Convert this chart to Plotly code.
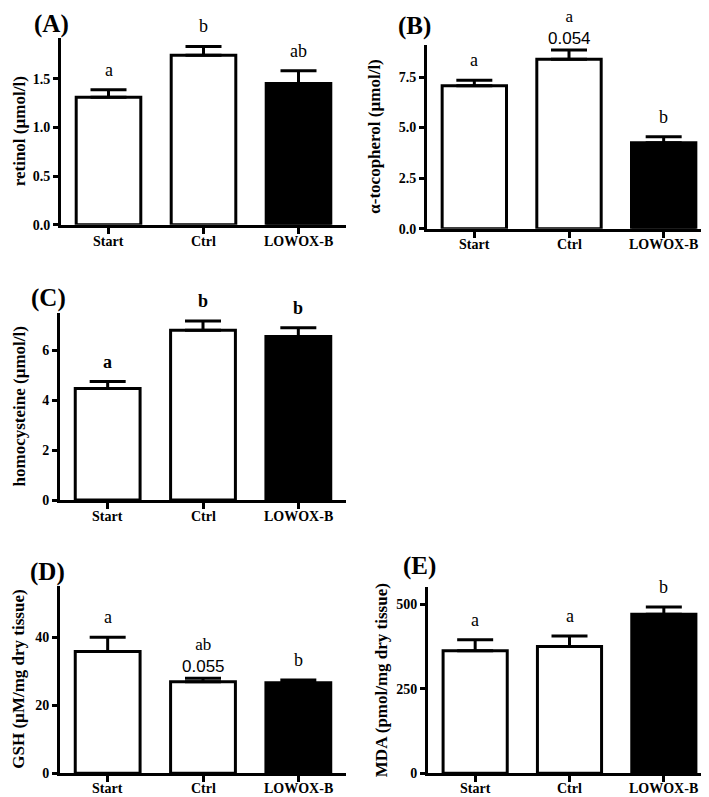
import plotly.graph_objects as go

W, H = 709, 797

categories = ["Start", "Ctrl", "LOWOX-B"]
bar_colors = ["white", "white", "black"]

retinol = [1.31, 1.74, 1.45]
retinol_err = [0.075, 0.09, 0.13]
retinol_letters = ["a", "b", "ab"]

tocopherol = [7.07, 8.38, 4.25]
tocopherol_err = [0.27, 0.45, 0.30]
tocopherol_letters = ["a", "a", "b"]
tocopherol_p = ["", "0.054", ""]

homocysteine = [4.47, 6.80, 6.55]
homocysteine_err = [0.28, 0.38, 0.36]
homocysteine_letters = ["a", "b", "b"]

gsh = [35.8, 26.9, 26.6]
gsh_err = [4.2, 1.0, 0.8]
gsh_letters = ["a", "ab", "b"]
gsh_p = ["", "0.055", ""]

mda = [363, 375, 471]
mda_err = [32, 31, 21]
mda_letters = ["a", "a", "b"]

SERIF = "Liberation Serif, Times New Roman, serif"
SANS = "Liberation Sans, Arial, sans-serif"

# panel layout in pixels: (x0, x1, ytop, ybottom)
panels = [
    dict(name="A", vals=retinol, err=retinol_err, letters=retinol_letters, p=None,
         px=(53, 338, 30, 219), yr=[0, 1.92], ticks=[0, 0.5, 1.0, 1.5], fmt=".1f",
         title="retinol (µmol/l)", tx=11, lx=43, ly=16, lbold=False, loff=17),
    dict(name="B", vals=tocopherol, err=tocopherol_err, letters=tocopherol_letters, p=tocopherol_p,
         px=(419, 703, 37, 223), yr=[0, 9.1], ticks=[0, 2.5, 5.0, 7.5], fmt=".1f",
         title="α-tocopherol (µmol/l)", tx=367, lx=406, ly=18, lbold=False, loff=16),
    dict(name="C", vals=homocysteine, err=homocysteine_err, letters=homocysteine_letters, p=None,
         px=(52, 338, 308, 497), yr=[0, 7.5], ticks=[0, 2, 4, 6], fmt="d",
         title="homocysteine (µmol/l)", tx=11, lx=40, ly=293, lbold=True, loff=17),
    dict(name="D", vals=gsh, err=gsh_err, letters=gsh_letters, p=gsh_p,
         px=(52, 338, 584, 773), yr=[0, 55], ticks=[0, 20, 40], fmt="d",
         title="GSH (µM/mg dry tissue)", tx=11, lx=39, ly=570, lbold=False, loff=15),
    dict(name="E", vals=mda, err=mda_err, letters=mda_letters, p=None,
         px=(420, 703, 585, 773), yr=[0, 551], ticks=[0, 250, 500], fmt="d",
         title="MDA (pmol/mg dry tissue)", tx=373, lx=411, ly=564, lbold=False, loff=15),
]

fig = go.Figure()
annotations = []
layout = {}

for i, p in enumerate(panels):
    k = "" if i == 0 else str(i + 1)
    xa, ya = "x" + k, "y" + k
    x0, x1, yt, yb = p["px"]
    fig.add_trace(go.Bar(
        x=[0, 1, 2], y=p["vals"], xaxis=xa, yaxis=ya, width=0.68,
        marker=dict(color=bar_colors, line=dict(color="black", width=3)),
        error_y=dict(type="data", symmetric=False, array=p["err"], arrayminus=[0, 0, 0],
                     color="black", thickness=3, width=18),
        showlegend=False, hoverinfo="skip",
    ))
    layout["xaxis" + k] = dict(
        domain=[x0 / W, x1 / W], anchor=ya, range=[-0.5, 2.5],
        tickvals=[0, 1, 2], showticklabels=False, showline=True, linecolor="black",
        linewidth=3, ticks="outside", ticklen=6, tickwidth=2.5, tickcolor="black",
        showgrid=False, zeroline=False, fixedrange=True,
    )
    layout["yaxis" + k] = dict(
        domain=[1 - yb / H, 1 - yt / H], anchor=xa, range=p["yr"],
        tickvals=p["ticks"], tickformat=p["fmt"], showline=True, linecolor="black",
        linewidth=3, ticks="outside", ticklen=5, tickwidth=2.5, tickcolor="black",
        showgrid=False, zeroline=False, fixedrange=True,
        tickfont=dict(family=SERIF, size=14, color="black", weight="bold"),
    )
    # category labels
    for j, c in enumerate(categories):
        annotations.append(dict(
            x=j, y=1 - (yb + p["loff"]) / H, xref=xa, yref="paper", text=c, showarrow=False,
            xanchor="center", yanchor="middle",
            font=dict(family=SERIF, size=14, color="black", weight="bold")))
    # significance letters (with optional p-value underneath)
    for j in range(3):
        top = p["vals"][j] + p["err"][j]
        has_p = p["p"] is not None and p["p"][j]
        if has_p:
            txt = ("<span style='font-family:Liberation Serif, serif;font-size:17px'>"
                   + p["letters"][j] + "</span><br>" + p["p"][j])
            annotations.append(dict(
                x=j, y=top, xref=xa, yref=ya, text=txt, showarrow=False,
                yanchor="bottom", yshift=1, borderpad=0,
                font=dict(family=SANS, size=17, color="black")))
        else:
            annotations.append(dict(
                x=j, y=top, xref=xa, yref=ya, text=p["letters"][j], showarrow=False,
                yanchor="bottom", yshift=8,
                font=dict(family=SERIF, size=18, color="black",
                          weight=("bold" if p["lbold"] else "normal"))))
    # y title
    annotations.append(dict(
        x=p["tx"] / W, y=1 - (yt + yb) / 2 / H, xref="paper", yref="paper",
        text=p["title"], textangle=-90, showarrow=False, xanchor="center", yanchor="middle",
        font=dict(family=SERIF, size=17, color="black", weight="bold")))
    # panel label
    annotations.append(dict(
        x=p["lx"] / W, y=1 - p["ly"] / H, xref="paper", yref="paper",
        text="(" + p["name"] + ")", showarrow=False, xanchor="center", yanchor="middle",
        font=dict(family=SERIF, size=25, color="black", weight="bold")))

fig.update_layout(
    width=W, height=H, margin=dict(l=0, r=0, t=0, b=0),
    paper_bgcolor="white", plot_bgcolor="white",
    annotations=annotations, **layout,
)

fig.write_html("out.html")
